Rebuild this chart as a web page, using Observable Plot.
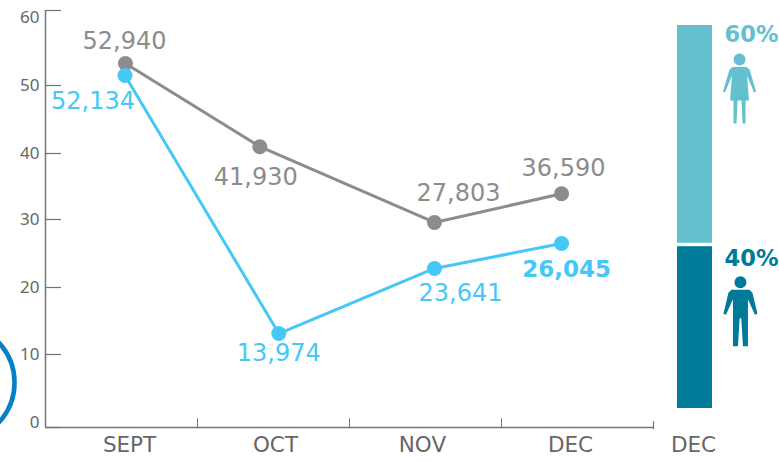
<!DOCTYPE html>
<html>
<head>
<meta charset="utf-8">
<script src="https://cdn.jsdelivr.net/npm/d3@7"></script>
<script src="https://cdn.jsdelivr.net/npm/@observablehq/plot@0.6"></script>
<style>html,body{margin:0;padding:0;background:#fff}svg{display:block}</style>
</head>
<body>
<div id="chart"></div>
<script>
// Data
const months = ["SEPT", "OCT", "NOV", "DEC"];
const monthAt = [0.553, 1.513, 2.48, 3.454];
const yTicks = [0, 10, 20, 30, 40, 50, 60];
const yTickLabelAt = [0.7, 10, 20, 30, 40, 50, 59];
const grayCounts = [52940, 41930, 27803, 36590];
const blueCounts = [52134, 13974, 23641, 26045];
const grayPlotted = [52.93, 41.0, 29.56, 33.9];
const bluePlotted = [51.33, 13.13, 22.8, 26.47];
const grayAt = [0.526, 1.41, 2.559, 3.395];
const blueAt = [0.523, 1.535, 2.559, 3.395];
const shareLabels = ["60%", "40%"];
const shareBars = [[26.5, 58], [2.6, 26.0]];

// Page layout constants
const gray = "#8c8c8c", blue = "#45c8f5", light = "#63c1cf", dark = "#007a99", axis = "#757575", tick = "#666666";
const font = "'DejaVu Sans', Verdana, sans-serif";
const tickFont = "'Noto Sans', Tahoma, sans-serif";

// Placement of each value label relative to its point
const grayOffsets = [[-1, -22], [-4, 31], [24, -29], [2, -25]];
const blueOffsets = [[-32, 26], [0, 20], [26, 25], [5, 26]];

const woman = {draw(c, size) {
  const k = Math.sqrt(size / Math.PI) / 10;
  const m = (x, y) => c.moveTo(x * k, y * k), l = (x, y) => c.lineTo(x * k, y * k);
  c.arc(0, -30 * k, 6 * k, 0, 2 * Math.PI); c.closePath();
  m(-7, -22.5); l(7, -22.5); l(10, -20); l(16.5, 2); l(14.5, 3); l(7.5, -14); l(9.5, 11); l(6, 11);
  l(6, 34); l(3, 34); l(2, 11); l(-2, 11); l(-3, 34); l(-6, 34); l(-6, 11); l(-9.5, 11); l(-7.5, -14); l(-14.5, 3); l(-16.5, 2); l(-10, -20); c.closePath();
}};
const man = {draw(c, size) {
  const k = Math.sqrt(size / Math.PI) / 10;
  const m = (x, y) => c.moveTo(x * k, y * k), l = (x, y) => c.lineTo(x * k, y * k);
  c.arc(0, -28 * k, 6 * k, 0, 2 * Math.PI); c.closePath();
  m(-9, -20.5); l(9, -20.5); l(12, -17.5); l(17, 3.5); l(14.5, 4.5); l(7.5, -11); l(7.5, 2); l(7.5, 36); l(2.5, 36); l(0.8, 8); l(-0.8, 8); l(-2.5, 36); l(-7.5, 36); l(-7.5, 2); l(-7.5, -11); l(-14.5, 4.5); l(-17, 3.5); l(-12, -17.5); c.closePath();
}};

const valueLabels = (counts, at, plotted, offsets, color, boldIndex) => counts.map((v, i) =>
  Plot.text([d3.format(",")(v)], {
    x: [at[i]], y: [plotted[i]], text: d => d, dx: offsets[i][0], dy: offsets[i][1],
    fill: color, fontSize: i === boldIndex ? 23 : 24, fontWeight: i === boldIndex ? "bold" : "normal",
    textAnchor: "middle", lineAnchor: "middle", fontFamily: font
  }));

const chart = Plot.plot({
  width: 779, height: 462, margin: 0,
  style: {background: "#fff", fontFamily: font},
  x: {type: "linear", domain: [0, 4], range: [45, 653], axis: null},
  y: {type: "linear", domain: yTicks, range: [427, 354, 287, 219, 153, 85, 10], axis: null},
  marks: [
    // outer ring fragment at the left edge
    Plot.dot([[-0.59, 6.16]], {x: d => d[0], y: d => d[1], r: 58.7, stroke: "#0580c4", strokeWidth: 4.6, fill: "none"}),
    // axes
    Plot.ruleX([0], {y1: 0, y2: 60, stroke: axis, strokeWidth: 1.5, strokeOpacity: 1}),
    Plot.ruleY([0], {x1: 0, x2: 4, stroke: axis, strokeWidth: 1.5}),
    Plot.ruleY(yTicks, {x1: 0, x2: 0.105, stroke: axis, strokeWidth: 1.2}),
    Plot.ruleX([1, 2, 3], {y1: 0, y2: 1.2, stroke: axis, strokeWidth: 1}),
    Plot.ruleX([4], {y1: -0.3, y2: 0.8, stroke: axis, strokeWidth: 1.2}),
    Plot.text(yTicks, {x: -0.04, y: (d, i) => yTickLabelAt[i], text: d => String(d), textAnchor: "end", lineAnchor: "middle", fontSize: 17, fill: tick, fontFamily: tickFont}),
    Plot.text(months, {x: (d, i) => monthAt[i], y: -2.4, text: d => d, textAnchor: "middle", lineAnchor: "middle", fontSize: 21.5, fill: tick, fontFamily: font}),
    Plot.text(["DEC"], {x: 4.263, y: -2.4, text: d => d, textAnchor: "middle", lineAnchor: "middle", fontSize: 21.5, fill: tick, fontFamily: font}),
    // gray series
    Plot.line(grayPlotted, {x: (d, i) => grayAt[i], y: d => d, stroke: gray, strokeWidth: 3, curve: "linear"}),
    Plot.dot(grayPlotted, {x: (d, i) => grayAt[i], y: d => d, r: 7.5, fill: gray}),
    // blue series
    Plot.line(bluePlotted, {x: (d, i) => blueAt[i], y: d => d, stroke: blue, strokeWidth: 3, curve: "linear"}),
    Plot.dot(bluePlotted, {x: (d, i) => blueAt[i], y: d => d, r: 7.5, fill: blue}),
    ...valueLabels(grayCounts, grayAt, grayPlotted, grayOffsets, gray, -1),
    ...valueLabels(blueCounts, blueAt, bluePlotted, blueOffsets, blue, 3),
    // share bar
    Plot.rect(shareBars, {x1: 4.158, x2: 4.388, y1: d => d[0], y2: d => d[1], fill: (d, i) => i === 0 ? light : dark}),
    Plot.text([shareLabels[0]], {x: 4.645, y: 58, text: d => d, dy: 9, textAnchor: "middle", lineAnchor: "middle", fontSize: 22.5, fontWeight: "bold", fill: light, fontFamily: font}),
    Plot.text([shareLabels[1]], {x: 4.645, y: 24.2, text: d => d, dy: 0, textAnchor: "middle", lineAnchor: "middle", fontSize: 22.5, fontWeight: "bold", fill: dark, fontFamily: font}),
    Plot.dot([[4.566, 49.4]], {x: d => d[0], y: d => d[1], r: 10, symbol: woman, fill: light}),
    Plot.dot([[4.572, 16.6]], {x: d => d[0], y: d => d[1], r: 10, symbol: man, fill: dark})
  ]
});
document.getElementById("chart").append(chart);
</script>
</body>
</html>
